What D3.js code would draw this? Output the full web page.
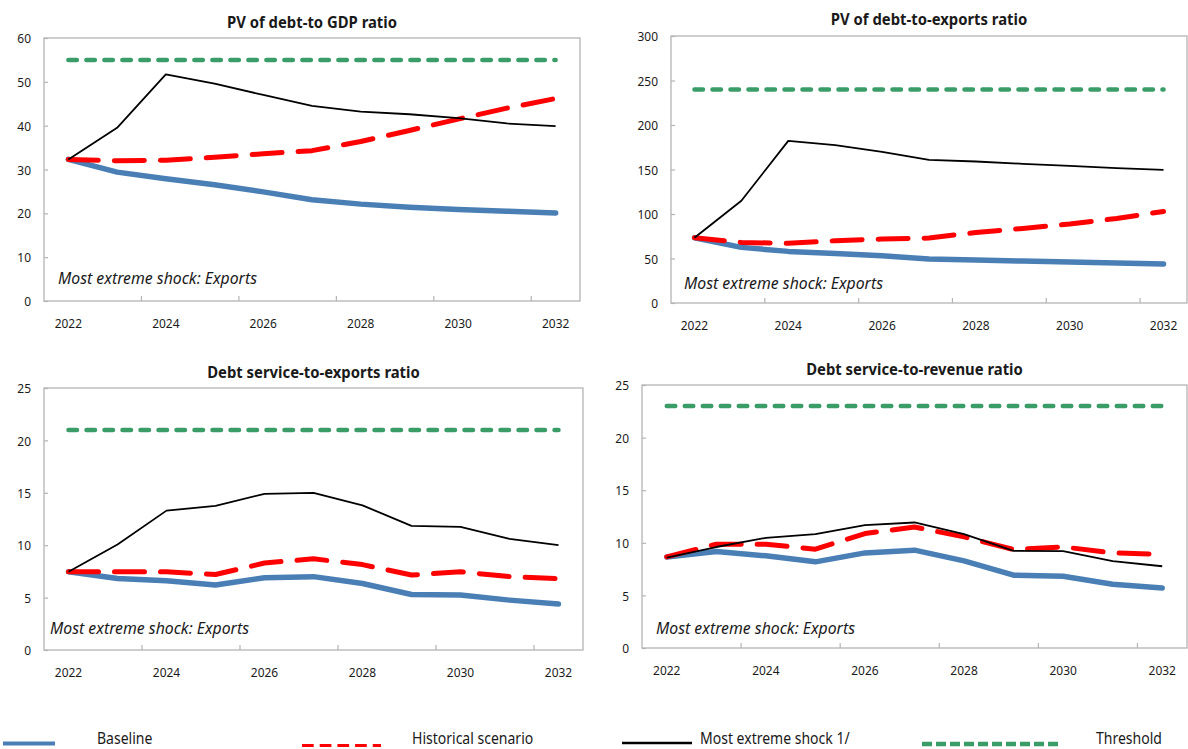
<!DOCTYPE html>
<html>
<head>
<meta charset="utf-8">
<script src="https://cdn.jsdelivr.net/npm/d3@7"></script>
<style>
  html, body { margin: 0; padding: 0; background: #fff; }
  svg { display: block; font-family: "Noto Sans", sans-serif; }
</style>
</head>
<body>
<svg id="chart" width="1188" height="749"></svg>
<script>
// ---- Data ----------------------------------------------------------------
const years = [2022, 2023, 2024, 2025, 2026, 2027, 2028, 2029, 2030, 2031, 2032];
const yearLabels = [2022, 2024, 2026, 2028, 2030, 2032];

const titles = [
  "PV of debt-to GDP ratio",
  "PV of debt-to-exports ratio",
  "Debt service-to-exports ratio",
  "Debt service-to-revenue ratio"
];
const noteText = "Most extreme shock: Exports";
const legendLabels = ["Baseline", "Historical scenario", "Most extreme shock 1/", "Threshold"];

// PV of debt-to-GDP
const gdpBaseline   = [32.3, 29.4, 27.9, 26.5, 24.9, 23.1, 22.1, 21.4, 20.9, 20.5, 20.1];
const gdpHistorical = [32.3, 32.0, 32.1, 32.8, 33.6, 34.3, 36.4, 38.9, 41.5, 44.0, 46.2];
const gdpShock      = [32.3, 39.5, 51.7, 49.6, 47.0, 44.5, 43.2, 42.6, 41.7, 40.5, 39.9];
const gdpThreshold  = 55;
const gdpTicks      = [0, 10, 20, 30, 40, 50, 60];

// PV of debt-to-exports
const expBaseline   = [73.3, 62.5, 58.0, 55.7, 53.0, 49.4, 48.3, 47.1, 46.0, 44.9, 43.8];
const expHistorical = [73.3, 68.0, 67.0, 70.0, 71.8, 73.0, 79.3, 83.8, 88.7, 95.0, 102.9];
const expShock      = [73.3, 114.9, 182.2, 177.3, 169.8, 160.9, 159.0, 156.4, 154.1, 151.5, 149.6];
const expThreshold  = 240;
const expTicks      = [0, 50, 100, 150, 200, 250, 300];

// Debt service-to-exports
const dsxBaseline   = [7.46, 6.83, 6.6, 6.2, 6.9, 7.0, 6.35, 5.3, 5.24, 4.76, 4.38];
const dsxHistorical = [7.46, 7.46, 7.46, 7.2, 8.3, 8.7, 8.15, 7.15, 7.46, 7.0, 6.8];
const dsxShock      = [7.46, 10.07, 13.3, 13.75, 14.9, 15.0, 13.8, 11.85, 11.75, 10.6, 10.0];
const dsxThreshold  = 21;
const dsxTicks      = [0, 5, 10, 15, 20, 25];

// Debt service-to-revenue
const dsrBaseline   = [8.66, 9.17, 8.76, 8.19, 9.04, 9.3, 8.28, 6.92, 6.82, 6.06, 5.71];
const dsrHistorical = [8.66, 9.87, 9.87, 9.39, 10.88, 11.5, 10.56, 9.36, 9.61, 9.04, 8.9];
const dsrShock      = [8.6, 9.6, 10.47, 10.82, 11.68, 11.93, 10.82, 9.23, 9.2, 8.25, 7.77];
const dsrThreshold  = 23;
const dsrTicks      = [0, 5, 10, 15, 20, 25];

// ---- Panel definitions (built from the arrays above) ---------------------
const panels = [
  { title: titles[0], ticks: gdpTicks, baseline: gdpBaseline, historical: gdpHistorical, shock: gdpShock, threshold: gdpThreshold },
  { title: titles[1], ticks: expTicks, baseline: expBaseline, historical: expHistorical, shock: expShock, threshold: expThreshold },
  { title: titles[2], ticks: dsxTicks, baseline: dsxBaseline, historical: dsxHistorical, shock: dsxShock, threshold: dsxThreshold },
  { title: titles[3], ticks: dsrTicks, baseline: dsrBaseline, historical: dsrHistorical, shock: dsrShock, threshold: dsrThreshold }
];

// Plot frames and text placement for each panel
const frames = [
  { left: 44,  right: 580,  top: 38,  bottom: 301, titleY: 28,  noteX: 58,  noteY: 284 },
  { left: 671, right: 1187, top: 36,  bottom: 303, titleY: 25,  noteX: 684, noteY: 289 },
  { left: 44,  right: 583,  top: 388, bottom: 650, titleY: 378, noteX: 50,  noteY: 634 },
  { left: 642, right: 1187, top: 385, bottom: 648, titleY: 375, noteX: 656, noteY: 634 }
];

// ---- Styles ---------------------------------------------------------------
const COLORS = { baseline: "#4a7fb5", historical: "#ff0000", shock: "#000000", threshold: "#3a9d68", frame: "#b4b4b4", text: "#1a1a1a" };
const SQ = { tick: 0.92, title: 0.9, note: 0.93, legend: 0.85 };   // horizontal glyph squeeze

const svg = d3.select("#chart");

function squeezedText(parent, x, y, sx, str) {
  return parent.append("text")
    .attr("transform", `translate(${x},${y}) scale(${sx},1)`)
    .attr("fill", COLORS.text)
    .text(str);
}

panels.forEach((p, i) => {
  const f = frames[i];
  const g = svg.append("g");

  const x = d3.scaleBand().domain(years).range([f.left, f.right]).padding(0);
  const cx = d => x(d) + x.bandwidth() / 2;
  const y = d3.scaleLinear().domain([0, d3.max(p.ticks)]).range([f.bottom, f.top]);

  // frame
  g.append("rect")
    .attr("x", f.left).attr("y", f.top)
    .attr("width", f.right - f.left).attr("height", f.bottom - f.top)
    .attr("fill", "#fff").attr("stroke", COLORS.frame).attr("stroke-width", 1.3);

  // y axis: inward ticks, labels to the left
  const yAxis = g.append("g").attr("transform", `translate(${f.left},0)`)
    .call(d3.axisLeft(y).tickValues(p.ticks).tickSizeInner(-4).tickSizeOuter(0).tickPadding(0));
  yAxis.select(".domain").remove();
  yAxis.selectAll(".tick line").attr("stroke", COLORS.frame).attr("stroke-width", 1.2);
  yAxis.selectAll(".tick text")
    .attr("x", null).attr("dy", null)
    .attr("transform", `translate(-13,4.6) scale(${SQ.tick},1)`)
    .attr("text-anchor", "end")
    .attr("font-size", 13).attr("font-family", "Noto Sans").attr("fill", COLORS.text);

  // x axis: labels every other year at band centres
  const xAxis = g.append("g").attr("transform", `translate(0,${f.bottom})`)
    .call(d3.axisBottom(x).tickValues(yearLabels).tickSize(0).tickPadding(0));
  xAxis.select(".domain").remove();
  xAxis.selectAll(".tick text")
    .attr("y", null).attr("dy", null)
    .attr("transform", `translate(0,26.5) scale(${SQ.tick},1)`)
    .attr("font-size", 13).attr("font-family", "Noto Sans").attr("fill", COLORS.text);

  // x tick marks on band boundaries, every second category
  g.append("g").selectAll("line")
    .data(years.filter((d, k) => k > 0 && k % 2 === 0))
    .join("line")
    .attr("x1", d => x(d)).attr("x2", d => x(d))
    .attr("y1", f.bottom).attr("y2", f.bottom - 5)
    .attr("stroke", COLORS.frame).attr("stroke-width", 1.2);

  const line = d3.line().x((d, k) => cx(years[k])).y(d => y(d));

  // baseline
  g.append("path").datum(p.baseline).attr("d", line)
    .attr("fill", "none").attr("stroke", COLORS.baseline).attr("stroke-width", 5.5)
    .attr("stroke-linecap", "round").attr("stroke-linejoin", "round");
  // historical scenario
  g.append("path").datum(p.historical).attr("d", line)
    .attr("fill", "none").attr("stroke", COLORS.historical).attr("stroke-width", 5)
    .attr("stroke-dasharray", "30,16")
    .attr("stroke-linecap", "round").attr("stroke-linejoin", "round");
  // most extreme shock
  g.append("path").datum(p.shock).attr("d", line)
    .attr("fill", "none").attr("stroke", COLORS.shock).attr("stroke-width", 1.8)
    .attr("stroke-linejoin", "round");
  // threshold
  g.append("path").datum(years.map(() => p.threshold)).attr("d", line)
    .attr("fill", "none").attr("stroke", COLORS.threshold).attr("stroke-width", 4.5)
    .attr("stroke-dasharray", "8.5,9.5").attr("stroke-linecap", "round");

  // title
  squeezedText(g, (f.left + f.right) / 2, f.titleY, SQ.title, p.title)
    .attr("text-anchor", "middle").attr("font-weight", "bold").attr("font-size", 16.5);

  // note
  squeezedText(g, f.noteX, f.noteY, SQ.note, noteText)
    .attr("font-style", "italic").attr("font-size", 17);
});

// ---- Legend ---------------------------------------------------------------
const legendPos = [
  { x0: 3,   x1: 55,   y: 743.5, tx: 97 },
  { x0: 302, x1: 381,  y: 745.5, tx: 412 },
  { x0: 622, x1: 692,  y: 743,   tx: 700 },
  { x0: 922, x1: 1060, y: 744,   tx: 1096 }
];
const legendStyles = [
  { stroke: COLORS.baseline,   width: 4,   dash: null },
  { stroke: COLORS.historical, width: 3,   dash: "11.7,6" },
  { stroke: COLORS.shock,      width: 2.6, dash: null },
  { stroke: COLORS.threshold,  width: 4.5, dash: "10,4" }
];
const lg = svg.append("g");
legendLabels.forEach((lab, k) => {
  const pos = legendPos[k], st = legendStyles[k];
  lg.append("line")
    .attr("x1", pos.x0).attr("x2", pos.x1).attr("y1", pos.y).attr("y2", pos.y)
    .attr("stroke", st.stroke).attr("stroke-width", st.width)
    .attr("stroke-dasharray", st.dash);
  squeezedText(lg, pos.tx, 744, SQ.legend, lab).attr("font-size", 16.5);
});
</script>
</body>
</html>
